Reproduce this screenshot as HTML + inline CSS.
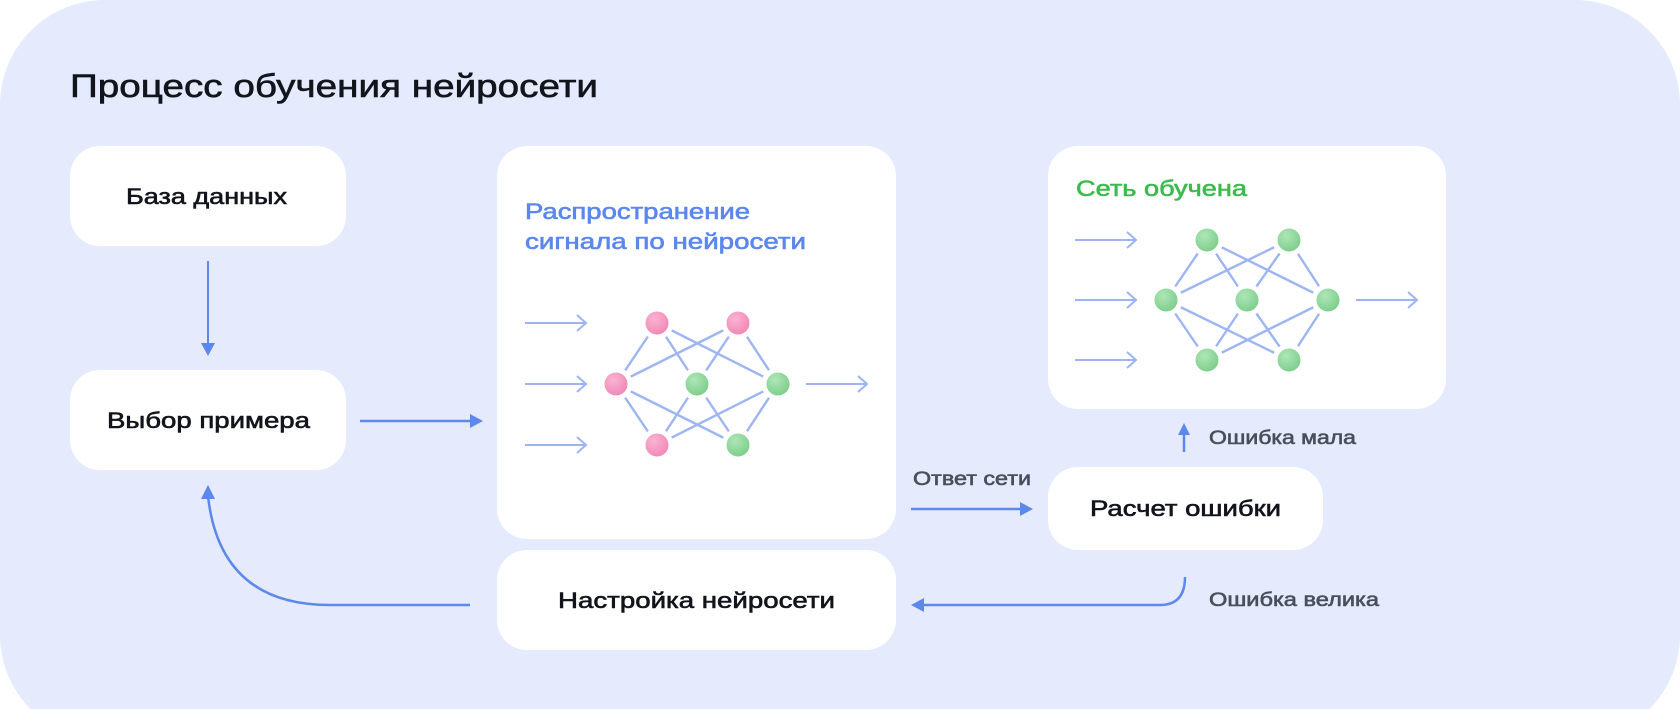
<!DOCTYPE html>
<html><head><meta charset="utf-8"><style>
html,body{margin:0;padding:0;background:#fff;}
svg{display:block;}
text{font-family:"Liberation Sans","DejaVu Sans",sans-serif;stroke-width:0.6;}
</style></head><body>
<svg width="1680" height="709" viewBox="0 0 1680 709" xmlns="http://www.w3.org/2000/svg">
<defs>
<radialGradient id="pk" cx="0.4" cy="0.35" r="0.7"><stop offset="0" stop-color="#fbb3d2"/><stop offset="1" stop-color="#ee80b0"/></radialGradient>
<radialGradient id="gr" cx="0.4" cy="0.35" r="0.7"><stop offset="0" stop-color="#aee6b6"/><stop offset="1" stop-color="#74c984"/></radialGradient>
<g id="ar"><path d="M0 0 H60 M52 -8 L61 0 L52 8" fill="none" stroke="#9cb4f3" stroke-width="2"/></g>
</defs>
<rect x="0" y="0" width="1680" height="740" rx="105" fill="#e5ebfd"/>
<text x="70" y="97" font-size="32" fill="#12151c" stroke="#12151c" stroke-width="0.8" textLength="528" lengthAdjust="spacingAndGlyphs">Процесс обучения нейросети</text>

<rect x="70" y="146" width="276" height="100" rx="30" fill="#fff"/>
<text x="126" y="204" font-size="22" fill="#12151c" stroke="#12151c" textLength="161" lengthAdjust="spacingAndGlyphs">База данных</text>
<rect x="70" y="370" width="276" height="100" rx="30" fill="#fff"/>
<text x="107" y="428" font-size="22" fill="#12151c" stroke="#12151c" textLength="203" lengthAdjust="spacingAndGlyphs">Выбор примера</text>

<line x1="208" y1="261" x2="208" y2="346" stroke="#5c88ee" stroke-width="2"/>
<path d="M201 343 L215 343 L208 356 Z" fill="#5c88ee"/>
<line x1="360" y1="421" x2="472" y2="421" stroke="#5c88ee" stroke-width="2.5"/>
<path d="M470 414 L483 421 L470 428 Z" fill="#5c88ee"/>

<rect x="497" y="146" width="399" height="393" rx="30" fill="#fff"/>
<text x="525" y="219" font-size="22" fill="#5b87ee" stroke="#5b87ee" textLength="225" lengthAdjust="spacingAndGlyphs">Распространение</text>
<text x="525" y="249" font-size="22" fill="#5b87ee" stroke="#5b87ee" textLength="281" lengthAdjust="spacingAndGlyphs">сигнала по нейросети</text>
<use href="#ar" x="525" y="323"/><use href="#ar" x="525" y="384"/><use href="#ar" x="525" y="445"/>
<use href="#ar" x="806" y="384"/>
<g stroke="#8ea9f1" stroke-width="2.4" opacity="0.85">
<line x1="616" y1="384" x2="657" y2="323"/><line x1="616" y1="384" x2="738" y2="323"/>
<line x1="616" y1="384" x2="657" y2="445"/><line x1="616" y1="384" x2="738" y2="445"/>
<line x1="657" y1="323" x2="697" y2="384"/><line x1="657" y1="323" x2="778" y2="384"/>
<line x1="738" y1="323" x2="697" y2="384"/><line x1="738" y1="323" x2="778" y2="384"/>
<line x1="657" y1="445" x2="697" y2="384"/><line x1="657" y1="445" x2="778" y2="384"/>
<line x1="738" y1="445" x2="697" y2="384"/><line x1="738" y1="445" x2="778" y2="384"/>
</g>
<g stroke="#fff" stroke-width="5">
<circle cx="657" cy="323" r="14" fill="url(#pk)"/><circle cx="738" cy="323" r="14" fill="url(#pk)"/>
<circle cx="616" cy="384" r="14" fill="url(#pk)"/><circle cx="697" cy="384" r="14" fill="url(#gr)"/>
<circle cx="778" cy="384" r="14" fill="url(#gr)"/><circle cx="657" cy="445" r="14" fill="url(#pk)"/>
<circle cx="738" cy="445" r="14" fill="url(#gr)"/>
</g>

<rect x="497" y="550" width="399" height="100" rx="30" fill="#fff"/>
<text x="558" y="608" font-size="22" fill="#12151c" stroke="#12151c" textLength="277" lengthAdjust="spacingAndGlyphs">Настройка нейросети</text>
<path d="M470 605 H330 Q220 605 208 496" fill="none" stroke="#5c88ee" stroke-width="2.5"/>
<path d="M201 499 L208 485 L215 499 Z" fill="#5c88ee"/>

<rect x="1048" y="146" width="398" height="263" rx="30" fill="#fff"/>
<text x="1076" y="196" font-size="22" fill="#3dba4e" stroke="#3dba4e" textLength="171" lengthAdjust="spacingAndGlyphs">Сеть обучена</text>
<use href="#ar" x="1075" y="240"/><use href="#ar" x="1075" y="300"/><use href="#ar" x="1075" y="360"/>
<use href="#ar" x="1356" y="300"/>
<g stroke="#8ea9f1" stroke-width="2.4" opacity="0.85">
<line x1="1166" y1="300" x2="1207" y2="240"/><line x1="1166" y1="300" x2="1289" y2="240"/>
<line x1="1166" y1="300" x2="1207" y2="360"/><line x1="1166" y1="300" x2="1289" y2="360"/>
<line x1="1207" y1="240" x2="1247" y2="300"/><line x1="1207" y1="240" x2="1328" y2="300"/>
<line x1="1289" y1="240" x2="1247" y2="300"/><line x1="1289" y1="240" x2="1328" y2="300"/>
<line x1="1207" y1="360" x2="1247" y2="300"/><line x1="1207" y1="360" x2="1328" y2="300"/>
<line x1="1289" y1="360" x2="1247" y2="300"/><line x1="1289" y1="360" x2="1328" y2="300"/>
</g>
<g fill="url(#gr)" stroke="#fff" stroke-width="5">
<circle cx="1207" cy="240" r="14"/><circle cx="1289" cy="240" r="14"/>
<circle cx="1166" cy="300" r="14"/><circle cx="1247" cy="300" r="14"/><circle cx="1328" cy="300" r="14"/>
<circle cx="1207" cy="360" r="14"/><circle cx="1289" cy="360" r="14"/>
</g>

<line x1="1184" y1="452" x2="1184" y2="432" stroke="#5c88ee" stroke-width="2.5"/>
<path d="M1178 435 L1184 423 L1190 435 Z" fill="#5c88ee"/>
<text x="1209" y="444" font-size="19" fill="#4a4f5c" stroke="#4a4f5c" stroke-width="0.4" textLength="147" lengthAdjust="spacingAndGlyphs">Ошибка мала</text>

<text x="913" y="485" font-size="19" fill="#4a4f5c" stroke="#4a4f5c" stroke-width="0.4" textLength="118" lengthAdjust="spacingAndGlyphs">Ответ сети</text>
<line x1="911" y1="509" x2="1022" y2="509" stroke="#5c88ee" stroke-width="2.5"/>
<path d="M1020 502 L1033 509 L1020 516 Z" fill="#5c88ee"/>

<rect x="1048" y="467" width="275" height="83" rx="30" fill="#fff"/>
<text x="1090" y="516" font-size="22" fill="#12151c" stroke="#12151c" textLength="191" lengthAdjust="spacingAndGlyphs">Расчет ошибки</text>

<path d="M1185 577 Q1185 605 1160 605 H921" fill="none" stroke="#5c88ee" stroke-width="2.5"/>
<path d="M924 598 L911 605 L924 612 Z" fill="#5c88ee"/>
<text x="1209" y="606" font-size="19" fill="#4a4f5c" stroke="#4a4f5c" stroke-width="0.4" textLength="170" lengthAdjust="spacingAndGlyphs">Ошибка велика</text>
</svg>
</body></html>
